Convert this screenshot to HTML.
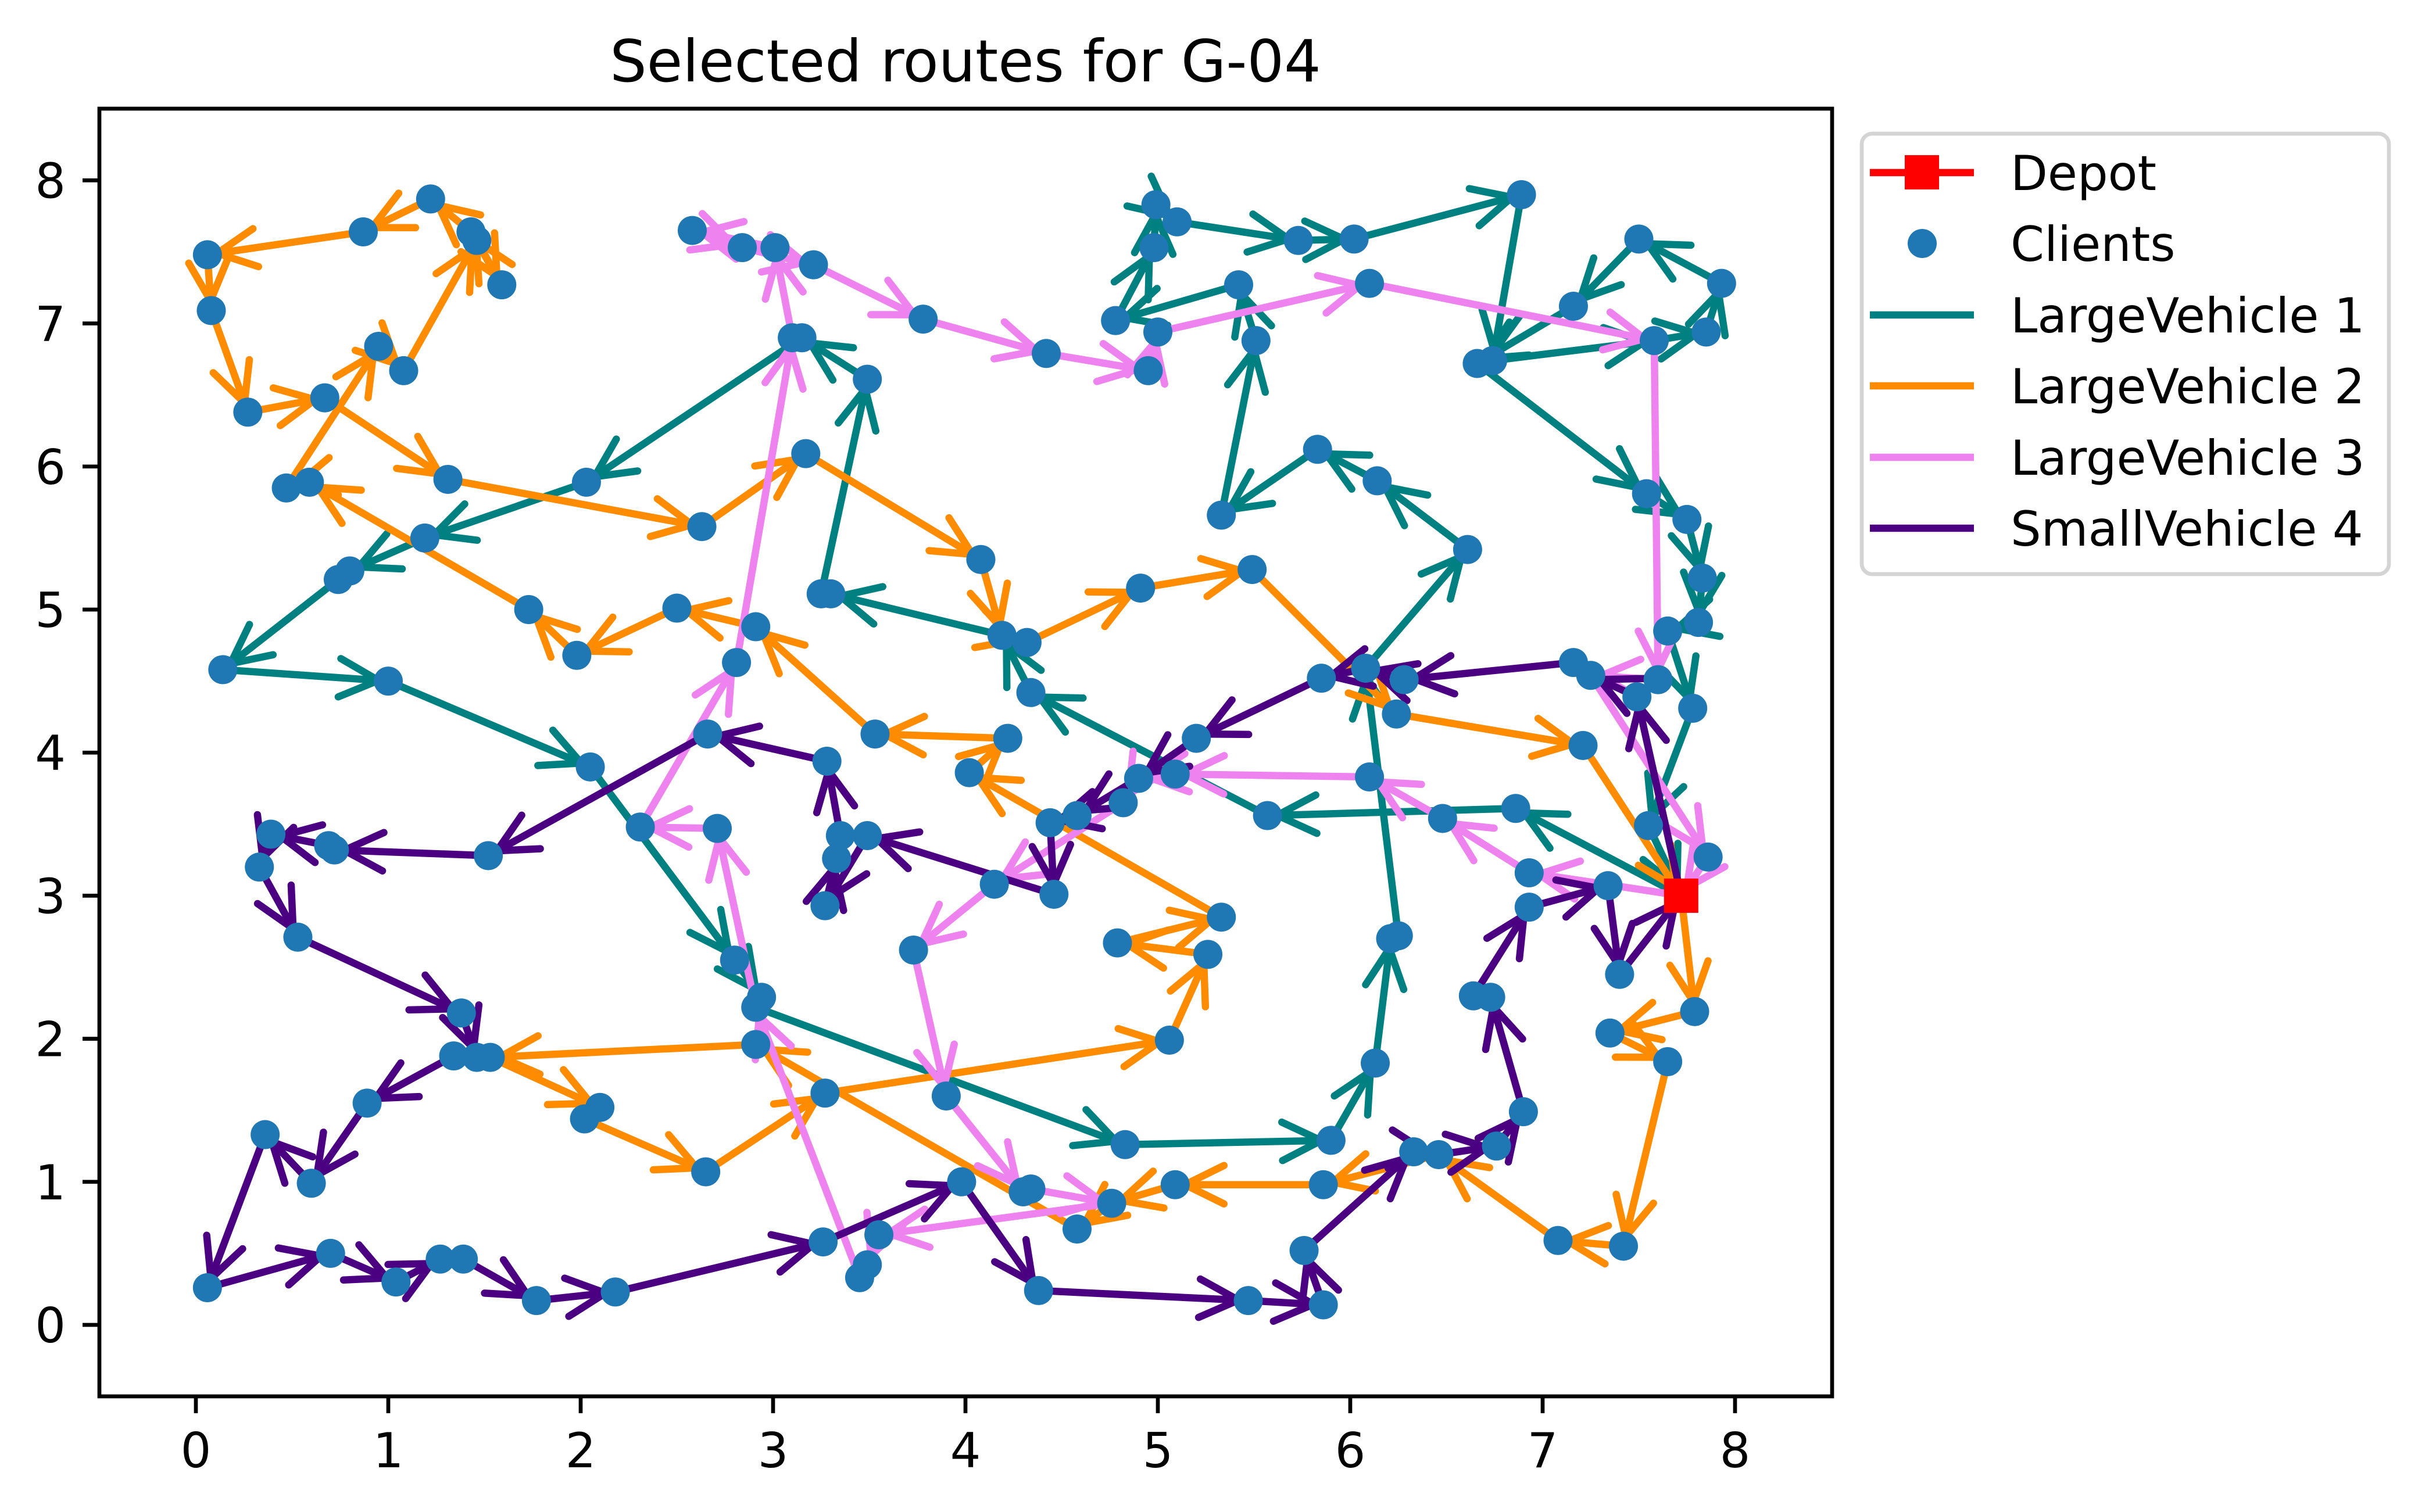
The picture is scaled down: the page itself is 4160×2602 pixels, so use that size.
<!DOCTYPE html>
<html><head><meta charset="utf-8"><title>Selected routes for G-04</title>
<style>html,body{margin:0;padding:0;background:#fff}svg{display:block}text{font-family:"DejaVu Sans","Liberation Sans",sans-serif}</style>
</head><body>
<svg id="chart" xmlns="http://www.w3.org/2000/svg" width="4160" height="2602" viewBox="0 0 4160 2602">
<rect x="0" y="0" width="4160" height="2602" fill="#fff"/>
<text x="1661" y="140" font-size="100" text-anchor="middle">Selected routes for G-04</text>
<g id="plot"></g>
<rect x="171" y="187" width="2981" height="2216" fill="none" stroke="#000" stroke-width="6.7"/>
<g id="ticks"></g>
<g>
<rect x="3203" y="230" width="907" height="758" rx="18" fill="#fff" fill-opacity="0.8" stroke="#d4d4d4" stroke-width="6.7"/>
<g><line x1="3217" y1="297" x2="3396" y2="297" stroke="#ff0000" stroke-width="12.5"/><rect x="3277" y="267" width="59" height="59" fill="#ff0000"/><text x="3459" y="327" font-size="83">Depot</text></g>
<g><circle cx="3307" cy="419" r="25" fill="#1f77b4"/><text x="3459" y="449" font-size="83">Clients</text></g>
<g><line x1="3217" y1="542" x2="3396" y2="542" stroke="#008080" stroke-width="12.5"/><text x="3459" y="572" font-size="83">LargeVehicle 1</text></g>
<g><line x1="3217" y1="664" x2="3396" y2="664" stroke="#ff8c00" stroke-width="12.5"/><text x="3459" y="694" font-size="83">LargeVehicle 2</text></g>
<g><line x1="3217" y1="787" x2="3396" y2="787" stroke="#ee82ee" stroke-width="12.5"/><text x="3459" y="817" font-size="83">LargeVehicle 3</text></g>
<g><line x1="3217" y1="909" x2="3396" y2="909" stroke="#4b0082" stroke-width="12.5"/><text x="3459" y="939" font-size="83">SmallVehicle 4</text></g>
</g>
</svg>
<script>
const depot = [7.72, 3.0];
const xTicks = [0,1,2,3,4,5,6,7,8];
const yTicks = [0,1,2,3,4,5,6,7,8];
const routeLV1 = [[6.86,3.61],[5.57,3.56],[4.34,4.42],[4.19,4.82],[3.30,5.11],[3.25,5.11],[3.49,6.61],[3.15,6.90],[2.03,5.89],[1.19,5.50],[0.80,5.27],[0.74,5.21],[0.14,4.58],[1.0,4.50],[2.05,3.90],[2.80,2.55],[2.94,2.29],[2.91,2.22],[4.83,1.26],[5.90,1.29],[6.13,1.83],[6.21,2.70],[6.25,2.72],[6.08,4.59],[6.61,5.42],[6.14,5.90],[5.83,6.12],[5.33,5.66],[5.51,6.88],[5.42,7.27],[4.78,7.02],[4.98,7.53],[4.99,7.83],[5.10,7.71],[5.73,7.58],[6.02,7.59],[6.89,7.90],[6.74,6.74],[7.58,6.88],[7.85,6.94],[7.93,7.28],[7.50,7.59],[7.16,7.12],[6.66,6.72],[7.54,5.81],[7.75,5.63],[7.83,5.22],[7.81,4.91],[7.65,4.85],[7.78,4.31],[7.55,3.49]];
const routeLV2 = [[7.79,2.19],[7.35,2.04],[7.65,1.84],[7.42,0.55],[7.08,0.59],[6.46,1.19],[5.86,0.98],[5.09,0.98],[4.76,0.85],[4.58,0.67],[2.91,1.96],[1.53,1.87],[2.10,1.52],[2.02,1.44],[2.65,1.07],[3.27,1.62],[5.06,1.99],[5.26,2.59],[4.79,2.67],[5.33,2.85],[4.02,3.86],[4.22,4.10],[3.53,4.13],[2.91,4.88],[2.50,5.01],[1.98,4.68],[1.73,5.00],[0.59,5.89],[0.47,5.85],[0.95,6.84],[1.08,6.67],[1.46,7.58],[1.59,7.27],[1.43,7.64],[1.22,7.87],[0.87,7.64],[0.06,7.48],[0.08,7.09],[0.27,6.38],[0.67,6.48],[1.31,5.91],[2.63,5.58],[3.17,6.09],[4.08,5.35],[4.19,4.82],[4.32,4.77],[4.91,5.15],[5.49,5.28],[6.24,4.27],[7.21,4.05]];
const routeLV3 = [[6.93,3.16],[6.48,3.54],[6.10,3.83],[5.09,3.85],[4.90,3.82],[4.82,3.65],[4.15,3.08],[3.73,2.62],[3.90,1.60],[4.30,0.93],[4.34,0.95],[4.76,0.85],[3.55,0.63],[3.49,0.42],[3.45,0.33],[2.91,2.22],[2.71,3.47],[2.31,3.48],[2.81,4.63],[3.10,6.90],[3.01,7.53],[2.58,7.65],[2.84,7.53],[3.21,7.41],[3.78,7.03],[4.42,6.79],[4.95,6.67],[5.0,6.94],[6.10,7.28],[7.58,6.88],[7.60,4.51],[7.25,4.54],[7.86,3.27]];
const routeSV4 = [[7.49,4.39],[7.25,4.54],[7.16,4.63],[6.28,4.51],[6.08,4.59],[5.85,4.52],[5.20,4.10],[4.90,3.82],[4.58,3.56],[4.44,3.51],[4.46,3.01],[3.49,3.42],[3.27,2.93],[3.33,3.26],[3.35,3.42],[3.28,3.94],[2.66,4.13],[1.52,3.28],[0.72,3.32],[0.69,3.35],[0.39,3.43],[0.33,3.20],[0.53,2.71],[1.38,2.18],[1.46,1.87],[1.34,1.88],[0.89,1.55],[0.60,0.99],[0.36,1.33],[0.06,0.26],[0.70,0.50],[1.04,0.30],[1.27,0.46],[1.39,0.46],[1.77,0.17],[2.18,0.23],[3.26,0.58],[3.98,1.00],[4.38,0.24],[5.47,0.17],[5.86,0.14],[5.76,0.52],[6.33,1.21],[6.46,1.19],[6.76,1.25],[6.90,1.49],[6.73,2.29],[6.64,2.30],[6.93,2.92],[7.34,3.07],[7.40,2.45]];
const routeNames = ['large-vehicle-1','large-vehicle-2','large-vehicle-3','small-vehicle-4'];
const routeColors = ['#008080','#ff8c00','#ee82ee','#4b0082'];
const routes = [routeLV1, routeLV2, routeLV3, routeSV4];

const NS = 'http://www.w3.org/2000/svg';
function sx(x){ return 337 + 331*x; }
function sy(y){ return 2280 - 246.2*y; }
function mk(tag, attrs, parent){
  const e = document.createElementNS(NS, tag);
  for (const k in attrs) e.setAttribute(k, attrs[k]);
  parent.appendChild(e); return e;
}
const plot = document.getElementById('plot');
const clip = mk('clipPath', {id:'ax'}, plot);
mk('rect', {x:171, y:187, width:2981, height:2216}, clip);
const g = mk('g', {'clip-path':'url(#ax)'}, plot);

routes.forEach((r, ri) => {
  const pts = [depot].concat(r).concat([depot]);
  const rg = mk('g', {}, g);
  
  
  const poly = mk('polyline', {points: pts.map(p => sx(p[0]) + ',' + sy(p[1])).join(' '), fill:'none', stroke: routeColors[ri], 'stroke-width':12.5, 'stroke-linejoin':'round'}, rg);
  
  
  for (let i = 0; i < pts.length - 1; i++) {
    const x1 = sx(pts[i][0]), y1 = sy(pts[i][1]), x2 = sx(pts[i+1][0]), y2 = sy(pts[i+1][1]);
    const dx = x2 - x1, dy = y2 - y1, L = Math.hypot(dx, dy);
    if (L < 40) continue;
    const ux = dx/L, uy = dy/L, nx = -uy, ny = ux;
    const bx = x2 - ux*17, by = y2 - uy*17;
    const hx = bx - ux*67, hy = by - uy*67;
    const d = 'M' + (hx + nx*33) + ',' + (hy + ny*33) + ' L' + bx + ',' + by + ' L' + (hx - nx*33) + ',' + (hy - ny*33);
    const a = mk('path', {d: d, fill:'none', stroke: routeColors[ri], 'stroke-width':12.5, 'stroke-linecap':'round', 'stroke-linejoin':'miter'}, rg);
    
    
  }
});

const seen = {};
const cg = mk('g', {}, g);


routes.forEach(r => r.forEach(p => {
  const k = p[0] + ',' + p[1];
  if (seen[k]) return; seen[k] = 1;
  const c = mk('circle', {cx: sx(p[0]), cy: sy(p[1]), r: 25, fill:'#1f77b4'}, cg);
  
  
}));
const dep = mk('rect', {x: sx(depot[0]) - 29.5, y: sy(depot[1]) - 29.5, width: 59, height: 59, fill:'#ff0000'}, g);



const tg = document.getElementById('ticks');
xTicks.forEach(v => {
  const x = sx(v);
  const t = mk('line', {x1:x, y1:2403, x2:x, y2:2432, stroke:'#000', 'stroke-width':6.7}, tg);
  
  
  const l = mk('text', {x:x, y:2525, 'font-size':83, 'text-anchor':'middle'}, tg);
  l.textContent = String(v);
  
  
});
yTicks.forEach(v => {
  const y = sy(v);
  const t = mk('line', {x1:142, y1:y, x2:171, y2:y, stroke:'#000', 'stroke-width':6.7}, tg);
  
  
  const l = mk('text', {x:113, y:y + 30, 'font-size':83, 'text-anchor':'end'}, tg);
  l.textContent = String(v);
  
  
});
</script>
</body></html>
